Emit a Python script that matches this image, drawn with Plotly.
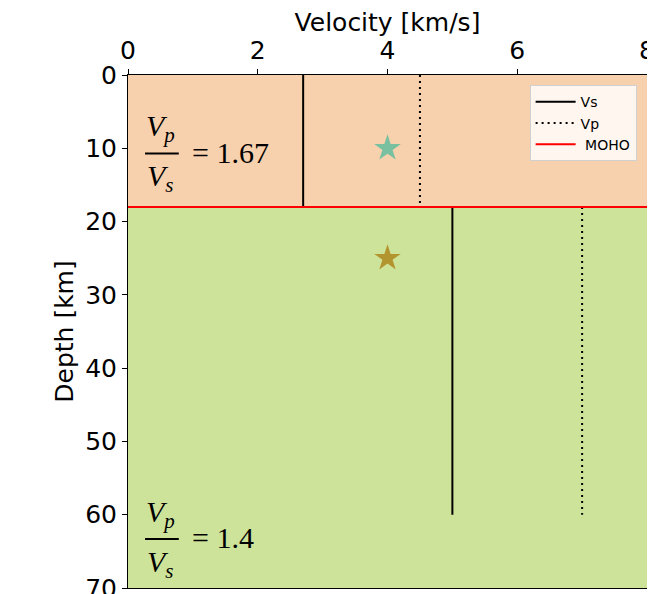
import plotly.graph_objects as go

# ---- data ----
layer_top = [0, 18]
layer_bottom = [18, 70]
layer_colors = ["#f7d0ad", "#cee39a"]
line_top = [0, 18]
line_bottom = [18, 60]
vs = [2.7, 5.0]
vp = [4.5, 7.0]
moho_depth = 18
star_x = [4, 4]
star_y = [10, 25]
star_colors = ["#78c0a0", "#b39530"]
ratios = ["1.67", "1.4"]
ratio_depth = [10.7, 63.3]
x_range = [0, 8]
y_range = [70, 0]

fig = go.Figure()

# layer backgrounds
for t, b, c in zip(layer_top, layer_bottom, layer_colors):
    fig.add_shape(type="rect", xref="x", yref="y", x0=x_range[0], x1=x_range[1],
                  y0=t, y1=b, fillcolor=c, line_width=0, layer="below")

def seg(vals):
    xs, ys = [], []
    for v, t, b in zip(vals, line_top, line_bottom):
        xs += [v, v, None]
        ys += [t, b, None]
    return xs, ys

xs, ys = seg(vs)
fig.add_trace(go.Scatter(x=xs, y=ys, mode="lines", name="Vs",
                         line=dict(color="black", width=2)))
xs, ys = seg(vp)
fig.add_trace(go.Scatter(x=xs, y=ys, mode="lines", name="Vp",
                         line=dict(color="black", width=2, dash="2px,4px")))
fig.add_trace(go.Scatter(x=x_range, y=[moho_depth, moho_depth], mode="lines", name=" MOHO",
                         line=dict(color="red", width=2)))
fig.add_trace(go.Scatter(x=star_x, y=star_y, mode="markers", showlegend=False,
                         marker=dict(symbol="star", size=20, color=star_colors, line_width=0)))

serif = "Liberation Serif"
fx = 0.523
for r, d in zip(ratios, ratio_depth):
    fig.add_annotation(x=fx, y=d, xref="x", yref="y", text="<i>V</i><sub><i>p</i></sub>",
                       showarrow=False, yshift=25, xshift=-1,
                       font=dict(family=serif, size=30, color="black"))
    fig.add_annotation(x=fx, y=d, xref="x", yref="y", text="<i>V</i><sub><i>s</i></sub>",
                       showarrow=False, yshift=-25, xshift=-1,
                       font=dict(family=serif, size=30, color="black"))
    fig.add_shape(type="line", xref="x", yref="y", x0=fx - 0.26, x1=fx + 0.26,
                  y0=d, y1=d, line=dict(color="black", width=2))
    fig.add_annotation(x=fx + 0.43, y=d, xref="x", yref="y", text="= " + r,
                       showarrow=False, xanchor="left", yshift=1,
                       font=dict(family=serif, size=30, color="black"))

axis_font = dict(family="DejaVu Sans", size=25, color="black")
fig.update_layout(
    width=647, height=586,
    margin=dict(l=120, r=8, t=67, b=6),
    paper_bgcolor="white", plot_bgcolor="white",
    font=dict(family="DejaVu Sans", color="black"),
    xaxis=dict(range=x_range, side="top", dtick=2, tick0=0, automargin=False,
               title=dict(text="Velocity [km/s]", font=axis_font, standoff=0),
               tickfont=axis_font, ticks="outside", ticklen=5, tickcolor="black",
               ticklabeloverflow="allow",
               showline=True, linecolor="black", linewidth=1, mirror=True,
               showgrid=False, zeroline=False),
    yaxis=dict(range=y_range, dtick=10, tick0=0, automargin=False,
               title=dict(text="Depth [km]", font=axis_font, standoff=4),
               tickfont=axis_font, ticks="outside", ticklen=5, tickcolor="black",
               ticklabeloverflow="allow",
               showline=True, linecolor="black", linewidth=1, mirror=True,
               showgrid=False, zeroline=False),
    legend=dict(x=0.98, y=0.98, xanchor="right", yanchor="top",
                bgcolor="rgba(255,255,255,0.8)", bordercolor="#d0d0d0", borderwidth=1,
                font=dict(family="DejaVu Sans", size=14, color="black"),
                itemwidth=40, tracegroupgap=0),
    showlegend=True,
)

fig.write_html("out.html")
